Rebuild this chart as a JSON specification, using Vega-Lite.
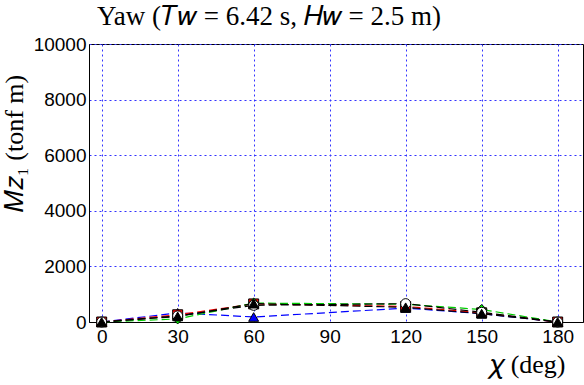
{
  "$schema": "https://vega.github.io/schema/vega-lite/v6.json",
  "autosize": "none",
  "width": 494,
  "height": 278,
  "padding": {"left": 89, "top": 44, "right": 1, "bottom": 63},
  "background": "white",
  "title": {
    "text": "Yaw (𝑇𝑤 = 6.42 s, 𝐻𝑤 = 2.5 m)",
    "font": "Liberation Serif",
    "fontSize": 27,
    "fontWeight": "normal",
    "anchor": "start",
    "frame": "group",
    "dx": 8,
    "offset": 4,
    "color": "black"
  },
  "config": {
    "view": {"stroke": "black", "strokeWidth": 1},
    "axis": {
      "labelFont": "Liberation Sans",
      "labelFontSize": 19,
      "labelColor": "black",
      "titleFont": "Liberation Serif",
      "titleFontSize": 26,
      "titleFontWeight": "normal",
      "titleColor": "black",
      "grid": true,
      "gridColor": "#3333ff",
      "gridDash": [2, 3],
      "gridWidth": 1,
      "gridOpacity": 1,
      "ticks": false,
      "domainColor": "black",
      "labelPadding": 4
    }
  },
  "data": {
    "values": [
      {"chi": 0, "M": 0, "s": "a"}, {"chi": 30, "M": 330, "s": "a"}, {"chi": 60, "M": 180, "s": "a"}, {"chi": 120, "M": 500, "s": "a"}, {"chi": 150, "M": 300, "s": "a"}, {"chi": 180, "M": 0, "s": "a"},
      {"chi": 0, "M": 0, "s": "b"}, {"chi": 30, "M": 260, "s": "b"}, {"chi": 60, "M": 650, "s": "b"}, {"chi": 120, "M": 560, "s": "b"}, {"chi": 150, "M": 330, "s": "b"}, {"chi": 180, "M": 0, "s": "b"},
      {"chi": 0, "M": 0, "s": "c"}, {"chi": 30, "M": 110, "s": "c"}, {"chi": 60, "M": 680, "s": "c"}, {"chi": 120, "M": 640, "s": "c"}, {"chi": 150, "M": 450, "s": "c"}, {"chi": 180, "M": 0, "s": "c"},
      {"chi": 0, "M": 0, "s": "d"}, {"chi": 30, "M": 220, "s": "d"}, {"chi": 60, "M": 600, "s": "d"}, {"chi": 120, "M": 660, "s": "d"}, {"chi": 150, "M": 350, "s": "d"}, {"chi": 180, "M": 0, "s": "d"},
      {"chi": 0, "M": 0, "s": "e"}, {"chi": 30, "M": 200, "s": "e"}, {"chi": 60, "M": 660, "s": "e"}, {"chi": 120, "M": 530, "s": "e"}, {"chi": 150, "M": 300, "s": "e"}, {"chi": 180, "M": 0, "s": "e"}
    ]
  },
  "encoding": {
    "x": {
      "field": "chi", "type": "quantitative",
      "scale": {"domain": [-5, 190], "nice": false, "zero": false},
      "axis": {"values": [0, 30, 60, 90, 120, 150, 180], "title": "𝜒 (deg)", "titleAnchor": "end", "titleAlign": "right", "titleBaseline": "alphabetic", "titleX": 476, "titleY": 50, "labelPadding": 5}
    },
    "y": {
      "field": "M", "type": "quantitative",
      "scale": {"domain": [0, 10000], "nice": false},
      "axis": {"values": [0, 2000, 4000, 6000, 8000, 10000], "format": "d", "title": "𝑀𝑧₁ (tonf m)", "titleX": -62, "titleY": 99, "labelPadding": 3}
    }
  },
  "layer": [
    {
      "mark": {"type": "line", "strokeDash": [8, 4], "strokeWidth": 1.2},
      "encoding": {
        "color": {"field": "s", "type": "nominal", "legend": null,
          "scale": {"domain": ["a", "b", "c", "d", "e"], "range": ["#0000ff", "#ff0000", "#00cc00", "#000000", "#000000"]}},
        "detail": {"field": "s"}
      }
    },
    {
      "mark": {"type": "point", "filled": true, "stroke": "black", "strokeWidth": 1, "size": 100, "opacity": 1},
      "encoding": {
        "fill": {"field": "s", "type": "nominal", "legend": null,
          "scale": {"domain": ["a", "b", "c", "d", "e"], "range": ["#0000ff", "#ff0000", "#00ff00", "#ffffff", "#000000"]}},
        "shape": {"field": "s", "type": "nominal", "legend": null,
          "scale": {"domain": ["a", "b", "c", "d", "e"], "range": ["triangle-up", "square", "diamond", "circle", "triangle-up"]}}
      }
    }
  ]
}
